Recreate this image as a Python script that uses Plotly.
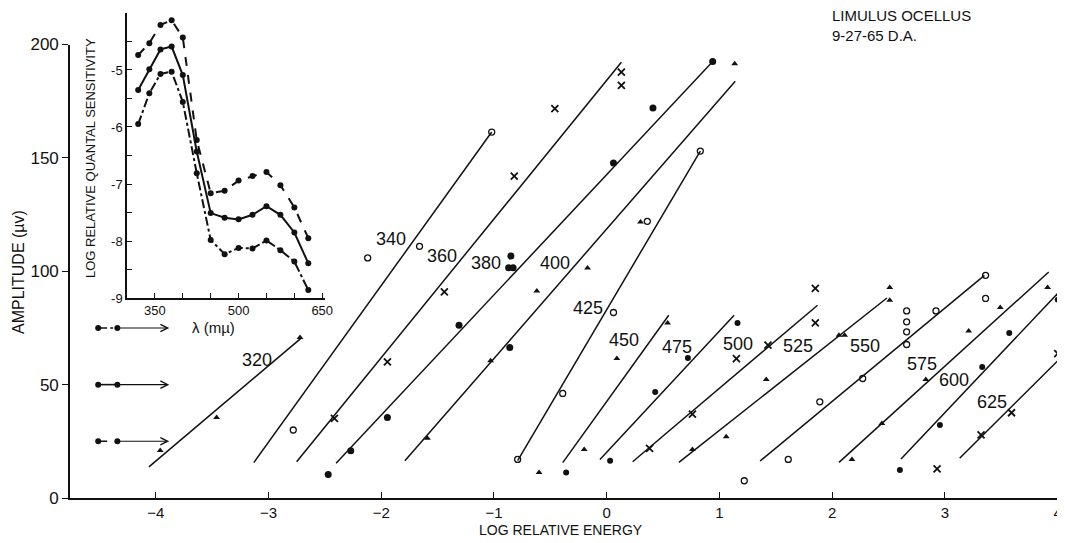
import plotly.graph_objects as go

# ---------------- data ----------------
WAVELENGTHS = [320, 340, 360, 380, 400, 425, 450, 475, 500, 525, 550, 575, 600, 625]

# fitted straight lines (log relative energy, amplitude in microvolts)
LINE_X0 = [-4.06, -3.13, -2.75, -2.40, -1.79, -0.79, -0.39, -0.06, 0.23, 0.64, 1.36, 2.06, 2.61, 3.13]
LINE_Y0 = [13.7, 15.6, 16.0, 15.3, 16.4, 16.5, 15.6, 17.0, 16.0, 15.7, 16.3, 15.7, 17.2, 17.5]
LINE_X1 = [-2.71, -1.02, 0.13, 0.94, 1.14, 0.83, 0.55, 1.13, 1.87, 2.485, 3.35, 3.92, 4.02, 4.02]
LINE_Y1 = [70.5, 161.4, 192.2, 192.5, 183.8, 153.0, 80.6, 80.6, 85.0, 88.2, 98.2, 99.7, 91.3, 61.5]

# measured points for each wavelength
X_320 = [-3.96, -3.46, -2.72]
Y_320 = [21.0, 35.5, 70.8]
X_340 = [-2.78, -2.12, -1.66, -1.02]
Y_340 = [30.0, 105.9, 111.0, 161.4]
X_360 = [-2.415, -1.945, -1.44, -0.82, -0.46, 0.13, 0.13]
Y_360 = [35.1, 60.0, 90.9, 142.0, 171.7, 187.8, 182.0]
X_380 = [-2.47, -2.27, -1.945, -1.31, -0.86, -0.85, -0.87, -0.83, 0.06, 0.41, 0.94]
Y_380 = [10.4, 20.8, 35.5, 76.2, 66.4, 106.7, 101.6, 101.6, 147.7, 172.0, 192.5]
X_400 = [-1.59, -1.03, -0.62, -0.17, 0.30, 1.135]
Y_400 = [26.3, 60.5, 91.3, 101.4, 121.7, 191.5]
X_425 = [-0.79, -0.39, 0.06, 0.36, 0.83]
Y_425 = [17.0, 46.1, 81.8, 122.0, 153.0]
X_450 = [-0.60, -0.20, 0.09, 0.54]
Y_450 = [11.2, 21.4, 61.5, 77.2]
X_475 = [-0.36, 0.03, 0.43, 0.72, 1.16]
Y_475 = [11.2, 16.4, 46.8, 61.8, 77.2]
X_500 = [0.38, 0.76, 1.15, 1.43, 1.85, 1.85]
Y_500 = [21.9, 37.0, 61.5, 67.4, 77.2, 92.4]
X_525 = [0.76, 1.06, 1.415, 2.06, 2.11, 2.51, 2.51]
Y_525 = [21.4, 27.0, 52.3, 71.8, 71.8, 87.2, 92.8]
X_550 = [1.22, 1.61, 1.89, 2.27, 2.66, 2.66, 2.66, 2.66, 2.92, 3.36, 3.36]
Y_550 = [7.6, 17.0, 42.4, 52.7, 67.7, 73.3, 77.7, 82.5, 82.5, 98.2, 88.0]
X_575 = [2.175, 2.44, 2.83, 3.21, 3.49, 3.91]
Y_575 = [17.0, 32.9, 52.3, 73.6, 84.0, 92.8]
X_600 = [2.60, 2.955, 3.33, 3.57, 4.0]
Y_600 = [12.3, 32.2, 57.8, 72.8, 87.5]
X_625 = [2.93, 3.32, 3.59, 4.0]
Y_625 = [12.8, 27.8, 37.6, 63.7]

# where each wavelength label is written (data coords)
LABEL_X = [-3.10, -1.91, -1.46, -1.07, -0.46, -0.17, 0.15, 0.62, 1.165, 1.70, 2.29, 2.80, 3.08, 3.42]
LABEL_Y = [61.0, 114.4, 106.6, 103.5, 103.7, 83.6, 69.6, 66.7, 68.0, 67.0, 67.0, 59.3, 52.0, 42.4]

# inset: log relative quantal sensitivity vs wavelength, for three criteria
CRITERIA = [25, 50, 75]   # microvolt criterion levels
SENS_25 = [-4.74, -4.53, -4.21, -4.13, -4.43, -6.23, -7.16, -7.12, -6.94, -6.86, -6.79, -7.02, -7.41, -7.95]
SENS_50 = [-5.35, -4.99, -4.64, -4.59, -5.09, -6.43, -7.51, -7.59, -7.62, -7.54, -7.39, -7.54, -7.85, -8.39]
SENS_75 = [-5.95, -5.41, -5.07, -5.03, -5.56, -6.81, -7.98, -8.23, -8.12, -8.13, -7.99, -8.16, -8.36, -8.86]

INSET_TICKS_X = [350, 400, 450, 500, 550, 600, 650]
INSET_TICKS_Y = [-9, -8.5, -8, -7.5, -7, -6.5, -6, -5.5, -5, -4.5, -4]

# ---------------- figure ----------------
FONT = "Liberation Sans"
INK = "#111111"

pts_x = [X_320, X_340, X_360, X_380, X_400, X_425, X_450, X_475, X_500, X_525, X_550, X_575, X_600, X_625]
pts_y = [Y_320, Y_340, Y_360, Y_380, Y_400, Y_425, Y_450, Y_475, Y_500, Y_525, Y_550, Y_575, Y_600, Y_625]
TRI = dict(symbol="triangle-up", size=6, color=INK)
OPEN = dict(symbol="circle-open", size=6, color=INK, line=dict(width=1.3, color=INK))
CROSS = dict(symbol="x-thin-open", size=7, color=INK, line=dict(width=1.8, color=INK))
DOT = dict(symbol="circle", size=6, color=INK)
marker_style = {
    320: TRI, 340: OPEN, 360: CROSS, 380: dict(DOT, size=7), 400: TRI, 425: OPEN,
    450: TRI, 475: DOT, 500: CROSS, 525: TRI, 550: OPEN, 575: TRI, 600: DOT, 625: CROSS,
}

fig = go.Figure()

for i, wl in enumerate(WAVELENGTHS):
    fig.add_trace(go.Scatter(
        x=[LINE_X0[i], LINE_X1[i]], y=[LINE_Y0[i], LINE_Y1[i]],
        mode="lines", line=dict(color=INK, width=1.5),
        showlegend=False, hoverinfo="skip"))
    fig.add_trace(go.Scatter(
        x=pts_x[i], y=pts_y[i], mode="markers", name=f"{wl} mµ",
        marker=marker_style[wl], showlegend=False))
    fig.add_annotation(x=LABEL_X[i], y=LABEL_Y[i], text=str(wl), showarrow=False,
                       font=dict(family=FONT, size=18, color=INK), xref="x", yref="y")

# criterion key (arrows at the left)
dash_of = {25: "dash", 50: "solid", 75: "dashdot"}
KEY_X = [-4.51, -4.34]
for c in CRITERIA:
    fig.add_trace(go.Scatter(
        x=KEY_X, y=[c, c], mode="lines+markers",
        line=dict(color=INK, width=1.6, dash=dash_of[c]),
        marker=dict(symbol="circle", size=6, color=INK),
        showlegend=False, hoverinfo="skip"))
    fig.add_annotation(x=-3.88, y=c, ax=KEY_X[1], ay=c, xref="x", yref="y",
                       axref="x", ayref="y", showarrow=True, arrowhead=5,
                       arrowsize=1.3, arrowwidth=1.1, arrowcolor=INK, text="")

# inset curves
for sens, c in zip([SENS_25, SENS_50, SENS_75], CRITERIA):
    fig.add_trace(go.Scatter(
        x=WAVELENGTHS, y=sens, xaxis="x2", yaxis="y2", mode="lines+markers",
        name=f"{c} µV", line=dict(color=INK, width=2, dash=dash_of[c]),
        marker=dict(symbol="circle", size=6, color=INK), showlegend=False))

axis_common = dict(showgrid=False, zeroline=False, showline=True, linecolor=INK,
                   linewidth=1.6, tickcolor=INK, tickwidth=1.3, automargin=False)

# page has an 8px body margin, so margins are offset by 8px
fig.update_layout(
    width=1065, height=543,
    margin=dict(l=62, r=13, t=0, b=53),
    paper_bgcolor="white", plot_bgcolor="rgba(0,0,0,0)",
    font=dict(family=FONT, color=INK),
    xaxis=dict(range=[-4.76, 4.02], domain=[0, 1], tickvals=[-4, -3, -2, -1, 0, 1, 2, 3, 4],
               ticks="inside", ticklen=6, tickfont=dict(size=15, family=FONT), **axis_common),
    yaxis=dict(range=[0, 200], domain=[0, 0.9255], tickvals=[0, 50, 100, 150, 200],
               ticks="outside", ticklen=6, tickfont=dict(size=17, family=FONT), **axis_common),
    xaxis2=dict(range=[300, 655], domain=[0.0576, 0.2576], anchor="y2",
                tickvals=INSET_TICKS_X,
                ticktext=[str(v) if v in (350, 500, 650) else "" for v in INSET_TICKS_X],
                ticks="inside", ticklen=5, tickfont=dict(size=13, family=FONT), **axis_common),
    yaxis2=dict(range=[-9, -4], domain=[0.408, 0.99], anchor="x2",
                tickvals=INSET_TICKS_Y,
                ticktext=[str(int(v)) if v == int(v) else "" for v in INSET_TICKS_Y],
                ticks="inside", ticklen=5, tickfont=dict(size=13, family=FONT), **axis_common),
)

# axis titles and caption (positions given in page pixels, converted to paper coords)
def px(x):
    return (x - 70) / 990


def py(y):
    return (498 - y) / 490


centred = dict(xref="paper", yref="paper", xanchor="center", yanchor="middle", showarrow=False)
fig.add_annotation(x=px(561), y=py(530), text="LOG RELATIVE ENERGY",
                   font=dict(size=14, family=FONT, color=INK), **centred)
fig.add_annotation(x=px(18), y=py(272), text="AMPLITUDE (µv)", textangle=-90,
                   font=dict(size=16, family=FONT, color=INK), **centred)
fig.add_annotation(x=px(90), y=py(158), text="LOG RELATIVE QUANTAL SENSITIVITY", textangle=-90,
                   font=dict(size=13, family=FONT, color=INK), **centred)
fig.add_annotation(x=px(213), y=py(327), text="λ (mµ)",
                   font=dict(size=15, family=FONT, color=INK), **centred)
fig.add_annotation(x=px(830), y=py(5), xref="paper", yref="paper",
                   xanchor="left", yanchor="top", align="left",
                   text="LIMULUS OCELLUS<br>9-27-65 D.A.", showarrow=False,
                   font=dict(size=15, family=FONT, color=INK))

fig.write_html("out.html")
